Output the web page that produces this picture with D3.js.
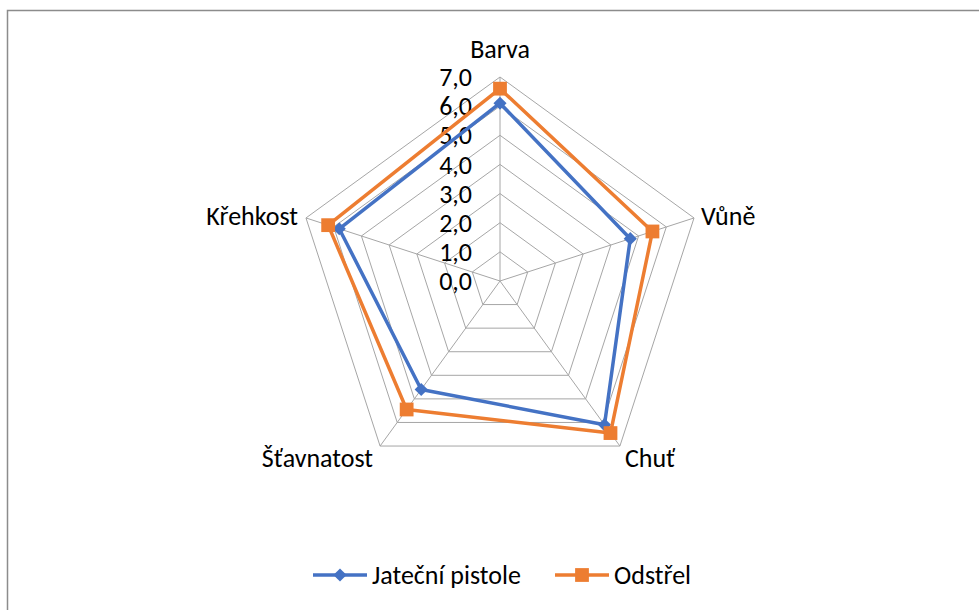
<!DOCTYPE html>
<html>
<head>
<meta charset="utf-8">
<script src="https://cdn.jsdelivr.net/npm/d3@7"></script>
<style>
  body { margin: 0; background: #fff; }
  text { font-family: Carlito, Lato, "Open Sans", sans-serif; fill: #000; }
</style>
</head>
<body>
<script>
var w = 979;
var h = 610;

// data
var axes = ["Barva", "Vůně", "Chuť", "Šťavnatost", "Křehkost"];
var pistole = [6.1, 4.7, 6.1, 4.6, 5.8];
var odstrel = [6.6, 5.5, 6.45, 5.45, 6.2];
var ticks = [0, 1, 2, 3, 4, 5, 6, 7];
var seriesNames = ["Jateční pistole", "Odstřel"];
var seriesColors = ["#4472C4", "#ED7D31"];

var cx = 500, cy = 281, R = 204;
var fs = "26px";

var svg = d3.select("body").append("svg")
    .attr("width", w)
    .attr("height", h);

// chart frame (runs off the right and bottom edge)
svg.append("rect")
    .attr("x", 7.5)
    .attr("y", 10.5)
    .attr("width", w + 20)
    .attr("height", h + 20)
    .attr("fill", "white")
    .attr("stroke", "#8c8c8c")
    .attr("stroke-width", 1.5);

var r = d3.scaleLinear().domain([0, 7]).range([0, R]);
var ang = d3.scaleLinear().domain([0, axes.length]).range([0, 2 * Math.PI]);

function pt(i, v) {
  var a = ang(i);
  return [cx + r(v) * Math.sin(a), cy - r(v) * Math.cos(a)];
}

// grid rings
var ring = d3.line().curve(d3.curveLinearClosed);
svg.selectAll(".ring")
    .data(ticks.slice(1))
    .enter().append("path")
    .attr("d", function(t) { return ring(axes.map(function(a, i) { return pt(i, t); })); })
    .attr("fill", "none")
    .attr("stroke", "#a6a6a6")
    .attr("stroke-width", 1);

// spokes
svg.selectAll(".spoke")
    .data(axes)
    .enter().append("line")
    .attr("x1", cx).attr("y1", cy)
    .attr("x2", function(d, i) { return pt(i, 7)[0]; })
    .attr("y2", function(d, i) { return pt(i, 7)[1]; })
    .attr("stroke", "#a6a6a6")
    .attr("stroke-width", 1);

// tick labels
svg.selectAll(".tick")
    .data(ticks)
    .enter().append("text")
    .attr("x", cx - 28)
    .attr("y", function(t) { return cy - r(t); })
    .attr("dy", "0.35em")
    .attr("text-anchor", "end")
    .style("font-size", fs)
    .text(function(t) { return t.toFixed(1).replace(".", ","); });

// axis labels
var labelPos = [
  {dx: 0, dy: -28, anchor: "middle"},
  {dx: 7, dy: -2, anchor: "start"},
  {dx: 5, dy: 12, anchor: "start"},
  {dx: -7, dy: 12, anchor: "end"},
  {dx: -8, dy: -2, anchor: "end"}
];
svg.selectAll(".axlab")
    .data(axes)
    .enter().append("text")
    .attr("x", function(d, i) { return pt(i, 7)[0] + labelPos[i].dx; })
    .attr("y", function(d, i) { return pt(i, 7)[1] + labelPos[i].dy; })
    .attr("dy", "0.35em")
    .attr("text-anchor", function(d, i) { return labelPos[i].anchor; })
    .style("font-size", fs)
    .text(function(d) { return d; });

// series
var series = [pistole, odstrel];
var diamond = d3.symbol().type(d3.symbolDiamond2).size(110);
var square = d3.symbol().type(d3.symbolSquare).size(190);
var symbols = [diamond, square];

series.forEach(function(vals, s) {
  var pts = vals.map(function(v, i) { return pt(i, v); });
  svg.append("path")
      .attr("d", ring(pts))
      .attr("fill", "none")
      .attr("stroke", seriesColors[s])
      .attr("stroke-width", 3.5)
      .attr("stroke-linejoin", "round");
  svg.selectAll(".m" + s)
      .data(pts)
      .enter().append("path")
      .attr("d", symbols[s])
      .attr("transform", function(p) { return "translate(" + p[0] + "," + p[1] + ")"; })
      .attr("fill", seriesColors[s]);
});

// legend
var legX = [313, 555];
var legY = 575;
seriesNames.forEach(function(name, s) {
  var g = svg.append("g").attr("transform", "translate(" + legX[s] + "," + legY + ")");
  g.append("line")
      .attr("x1", 0).attr("x2", 54)
      .attr("y1", 0).attr("y2", 0)
      .attr("stroke", seriesColors[s])
      .attr("stroke-width", 3.5);
  g.append("path")
      .attr("d", symbols[s])
      .attr("transform", "translate(27,0)")
      .attr("fill", seriesColors[s]);
  g.append("text")
      .attr("x", 59)
      .attr("y", 0)
      .attr("dy", "0.35em")
      .style("font-size", fs)
      .text(name);
});
</script>
</body>
</html>
